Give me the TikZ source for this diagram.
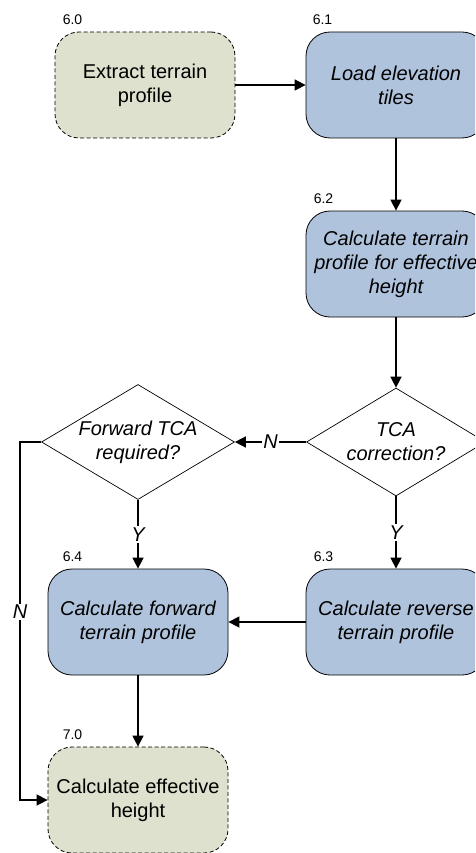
\documentclass[tikz,border=0pt]{standalone}
\usepackage{fontspec}
\setmainfont{Liberation Sans}
\usetikzlibrary{shapes.geometric,arrows.meta}

\definecolor{startfill}{RGB}{221,225,205}
\definecolor{procfill}{RGB}{176,195,220}

\begin{document}
\begin{tikzpicture}[x=1pt,y=-1pt,
  font=\fontsize{20}{24}\selectfont,
  box/.style={rounded corners=24pt, minimum width=180pt, minimum height=106pt,
    inner sep=0pt, align=center, draw=black, line width=0.8pt},
  endbox/.style={box, fill=startfill, dash pattern=on 4pt off 2.5pt},
  procbox/.style={box, fill=procfill, font=\fontsize{20}{24}\selectfont\itshape},
  decision/.style={shape=diamond, draw=black, line width=0.7pt, inner sep=0pt},
  dtext/.style={align=center, font=\fontsize{20}{24}\selectfont\itshape},
  num/.style={font=\fontsize{14}{16}\selectfont, anchor=base west, inner sep=0pt},
  conn/.style={line width=1.5pt, -{Triangle[length=11pt,width=11pt]}},
  flag/.style={fill=white, inner sep=1.5pt, font=\fontsize{20}{24}\selectfont\itshape}]

\useasboundingbox (0,0) rectangle (475,853);
\clip (0,0) rectangle (475,853);

% process steps
\node[endbox]  (s60) at (145,85)  {Extract terrain\\profile};
\node[procbox] (s61) at (396,85)  {Load elevation\\tiles};
\node[procbox] (s62) at (396,264) {Calculate terrain\\profile for effective\\height};
\node[procbox] (s63) at (396,622) {Calculate reverse\\terrain profile};
\node[procbox] (s64) at (138,622) {Calculate forward\\terrain profile};
\node[endbox]  (s70) at (138,800) {Calculate effective\\height};

% decisions
\node[decision, minimum width=179pt, minimum height=108pt] (dtca) at (396,442) {};
\node[dtext] at (dtca.center) {TCA\\correction?};
\node[decision, minimum width=193pt, minimum height=115pt] (dfwd) at (138,442) {};
\node[dtext] at (dfwd.center) {Forward TCA\\required?};

% step numbers
\node[num] at ([shift={(8,-7)}]s60.north west) {6.0};
\node[num] at ([shift={(7,-7)}]s61.north west) {6.1};
\node[num] at ([shift={(8,-7)}]s62.north west) {6.2};
\node[num] at ([shift={(8,-7)}]s63.north west) {6.3};
\node[num] at ([shift={(15,-7)}]s64.north west) {6.4};
\node[num] at ([shift={(15,-7)}]s70.north west) {7.0};

% connectors
\draw[conn] (s60.east) -- (s61.west);
\draw[conn] (s61.south) -- (s62.north);
\draw[conn] (s62.south) -- (dtca.north);
\draw[conn] (dtca.west) -- node[flag] (nN) {N} (dfwd.east);
\draw[conn] (dtca.south) -- node[flag] (nY1) {Y} (s63.north);
\draw[conn] (dfwd.south) -- node[flag] (nY2) {Y} (s64.north);
\draw[conn] (s63.west) -- (s64.east);
\draw[conn] (s64.south) -- (s70.north);

\coordinate (rail) at (20,0);
\draw[conn] (dfwd.west) -- (rail |- dfwd.west) -- (rail |- s70.west) -- (s70.west);
\node[flag] (nN2) at (20,612) {N};

\end{tikzpicture}
\end{document}
